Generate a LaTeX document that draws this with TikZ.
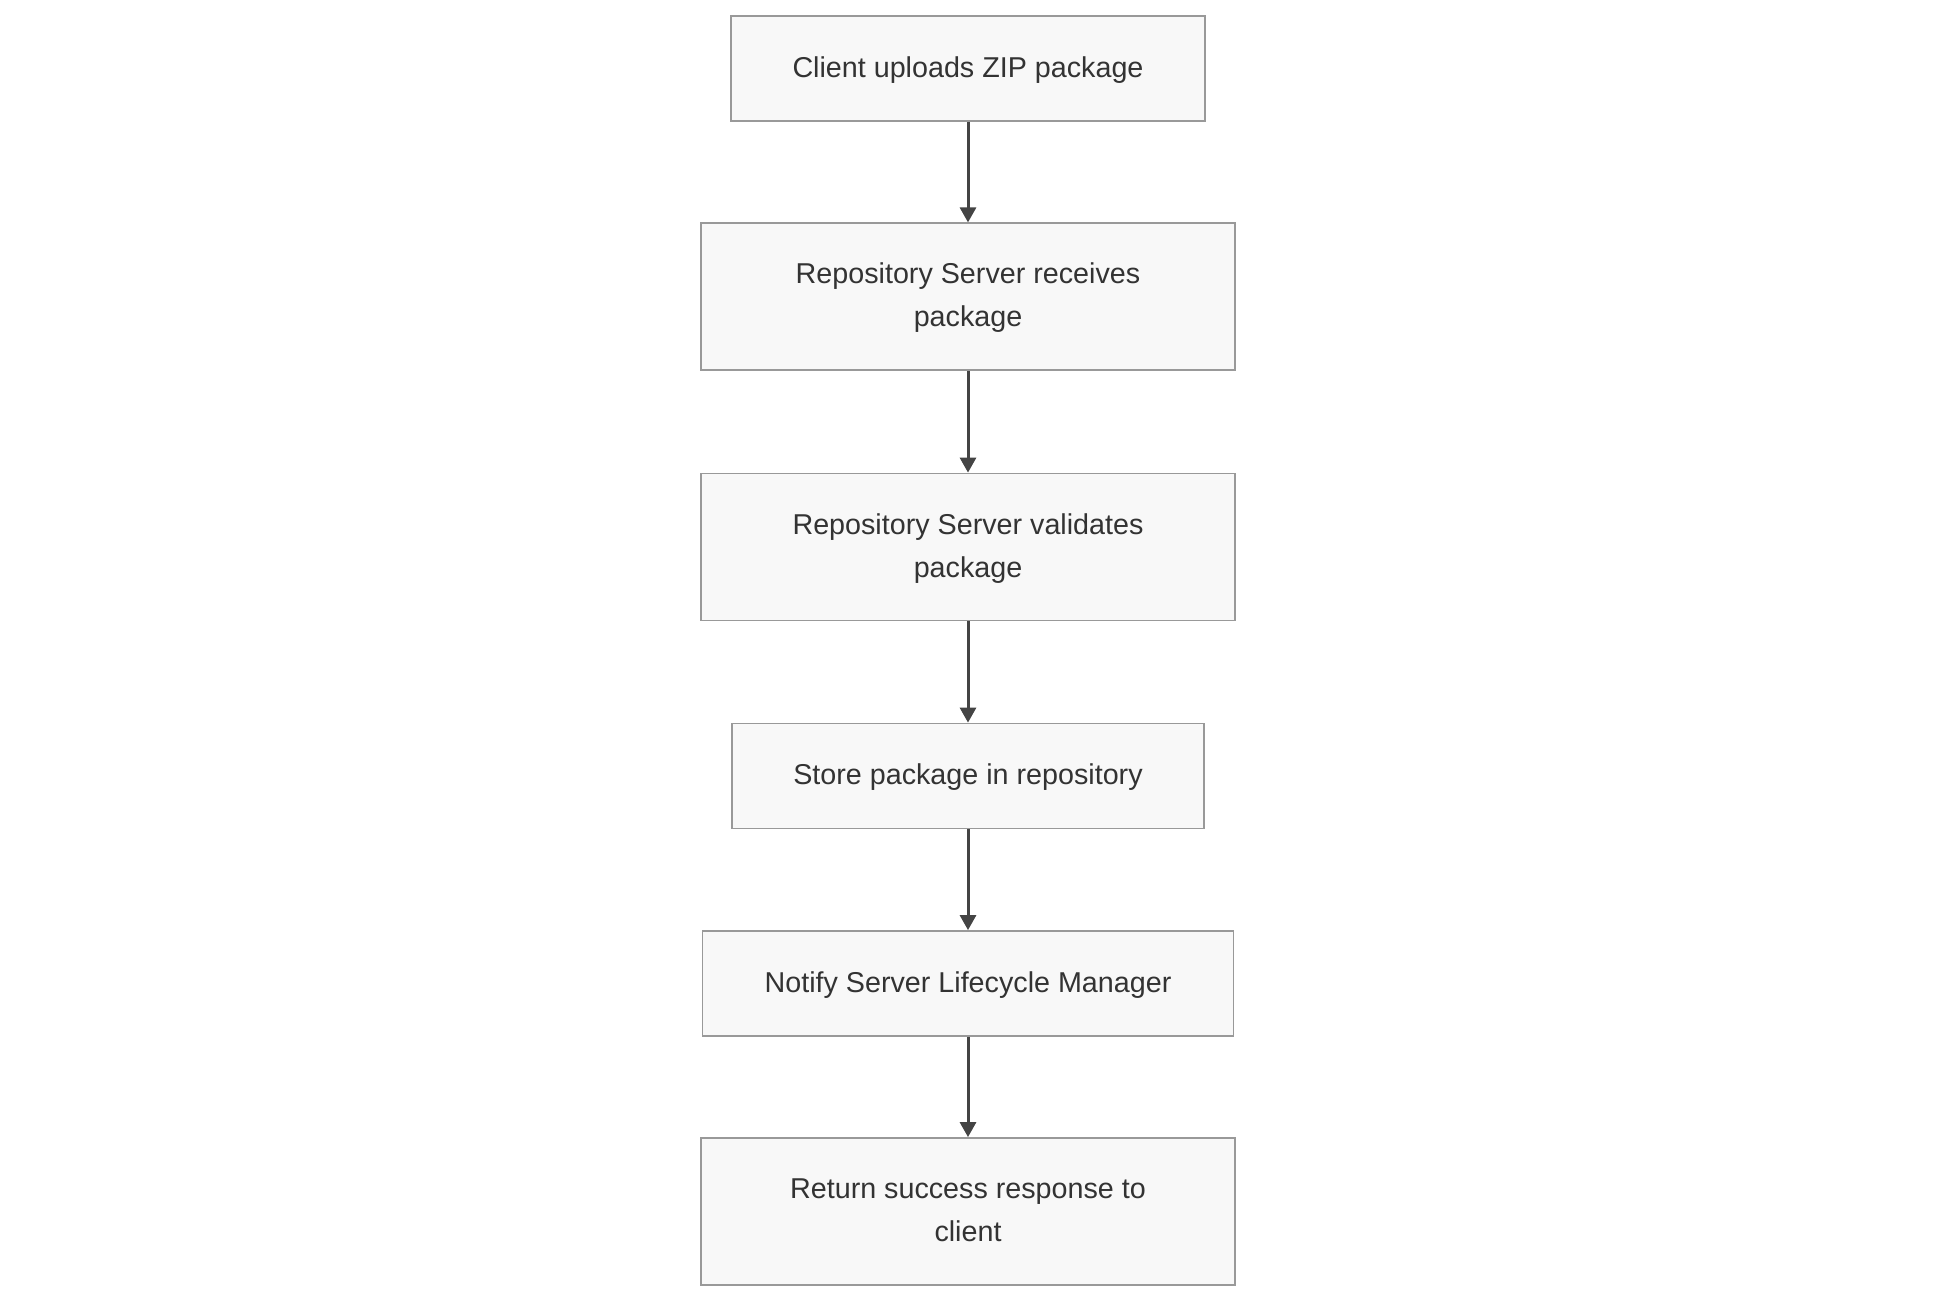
\documentclass[tikz,border=0pt]{standalone}
\usepackage{fontspec}
\setmainfont{Liberation Sans}
\usetikzlibrary{arrows.meta}
\definecolor{boxfill}{HTML}{F8F8F8}
\definecolor{boxdraw}{HTML}{999999}
\definecolor{txt}{HTML}{333333}
\definecolor{edge}{HTML}{444444}
\newcommand\boxtext[1]{\raisebox{-5.5pt}{\begin{tabular}{@{}c@{}}#1\end{tabular}}}
\tikzset{
  stepbox/.style={draw=boxdraw, fill=boxfill, line width=1.8pt,
    text=txt, font=\fontsize{28.7}{43}\selectfont, inner sep=0pt},
  flow/.style={draw=edge, line width=3pt, -{Triangle[width=16pt,length=15pt]}}
}
\begin{document}
\begin{tikzpicture}[x=1pt,y=-1pt]
\useasboundingbox (0,0) rectangle (1936,1302);
\node[stepbox, minimum width=474pt, minimum height=105pt] (n1) at (968,68.5) {\boxtext{Client uploads ZIP package}};
\node[stepbox, minimum width=534pt, minimum height=147pt] (n2) at (968,296.8) {\boxtext{Repository Server receives\\package}};
\node[stepbox, minimum width=534pt, minimum height=147pt] (n3) at (968,547) {\boxtext{Repository Server validates\\package}};
\node[stepbox, minimum width=472pt, minimum height=105pt] (n4) at (968,776) {\boxtext{Store package in repository}};
\node[stepbox, minimum width=531pt, minimum height=105pt] (n5) at (968,983.5) {\boxtext{Notify Server Lifecycle Manager}};
\node[stepbox, minimum width=534pt, minimum height=147pt] (n6) at (968,1211.5) {\boxtext{Return success response to\\client}};
\draw[flow] (n1.south) -- (n2.north);
\draw[flow] (n2.south) -- (n3.north);
\draw[flow] (n3.south) -- (n4.north);
\draw[flow] (n4.south) -- (n5.north);
\draw[flow] (n5.south) -- (n6.north);
\end{tikzpicture}
\end{document}
